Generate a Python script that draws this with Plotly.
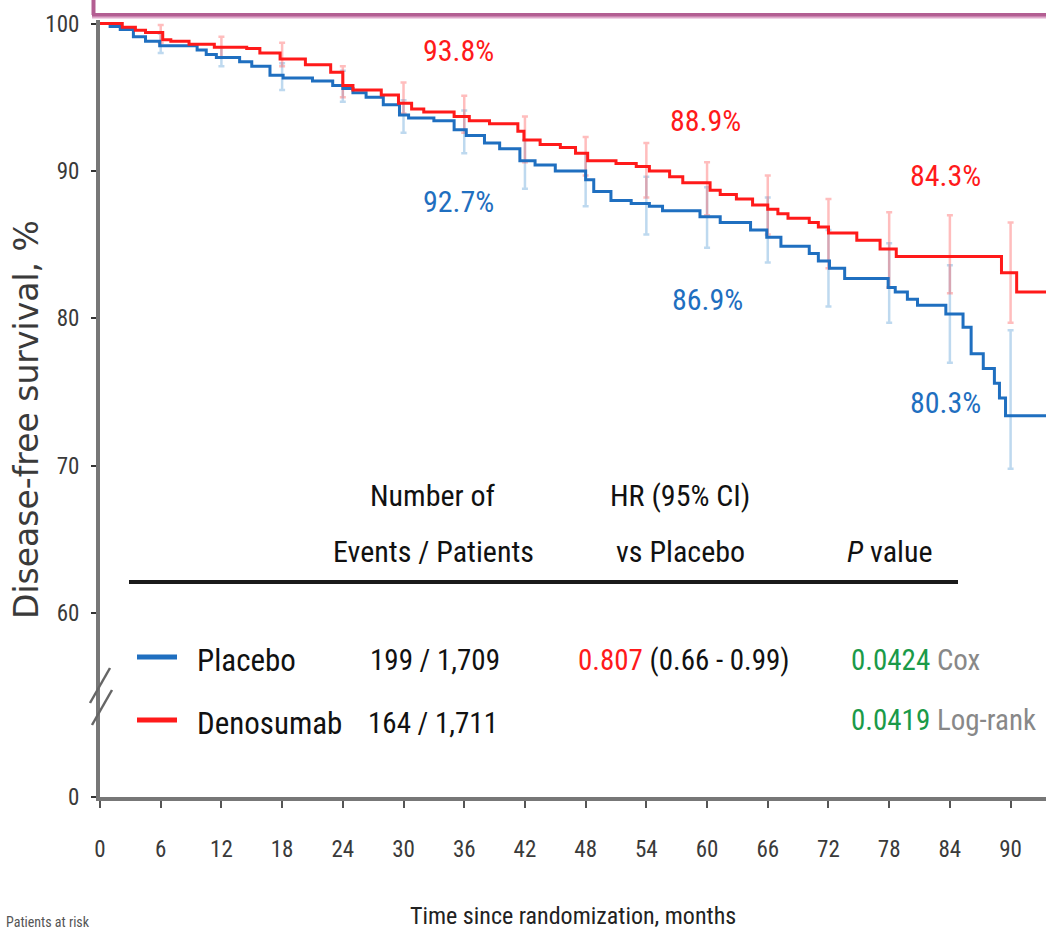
import plotly.graph_objects as go

# ---------------- data ----------------
month_ticks = list(range(0, 91, 6))
y_ticks_top = [60, 70, 80, 90, 100]

deno_t = [0, 2.2, 3.5, 4.5, 6.2, 7, 8.8, 11.3, 14.5, 15.8,
          17.8, 20.3, 22.8, 24.0, 25, 27.8, 29.5, 30.8, 32, 35,
          36.5, 38.5, 41.3, 41.9, 43.5, 45.5, 47, 48.2, 51, 53,
          54.3, 56.3, 57.6, 60.3, 61.3, 62.9, 64.5, 66, 67, 68,
          70.1, 71, 72, 74.8, 77.1, 78.7, 89.1, 90.6, 93.5]
deno_s = [100, 99.75, 99.55, 99.4, 98.9, 98.8, 98.6, 98.4, 98.3, 98.0,
          97.6, 97.2, 96.7, 95.8, 95.5, 95.15, 94.6, 94.2, 94.0, 93.7,
          93.4, 93.2, 92.7, 92.1, 91.8, 91.6, 91.2, 90.7, 90.5, 90.3,
          90.0, 89.6, 89.2, 88.7, 88.4, 88.1, 87.7, 87.4, 87.1, 86.8,
          86.5, 86.2, 85.8, 85.3, 84.7, 84.2, 83.1, 81.8, 81.8]

plac_t = [0, 1, 2, 3.3, 4.5, 5.9, 9.6, 10.5, 11.5, 13.8,
          15, 16.8, 18.1, 21, 23, 24, 25, 26.3, 28, 29.6,
          30.5, 33, 35, 36.2, 38, 39.5, 41.5, 43, 45, 48,
          48.8, 50.5, 52.5, 54.3, 55.6, 59.3, 61.3, 64.3, 65.9, 67.3,
          70.1, 71, 72.1, 73.6, 77.9, 78.6, 79.8, 80.8, 83.6, 85.3,
          86.1, 87.3, 88.4, 88.9, 89.5, 93.5]
plac_s = [100, 99.8, 99.6, 99.1, 98.8, 98.5, 98.2, 97.9, 97.7, 97.4,
          97.1, 96.5, 96.3, 96.1, 95.8, 95.6, 95.3, 95.0, 94.5, 93.8,
          93.6, 93.4, 92.8, 92.4, 91.9, 91.5, 90.7, 90.4, 90.0, 89.4,
          88.6, 88.0, 87.8, 87.6, 87.3, 86.9, 86.5, 86.0, 85.5, 84.9,
          84.4, 83.9, 83.4, 82.7, 82.1, 81.8, 81.3, 80.9, 80.3, 79.4,
          77.6, 76.6, 75.6, 74.6, 73.4, 73.4]

ci_t = [6, 12, 18, 24, 30, 36, 42, 48, 54, 60, 66, 72, 78, 84, 90]
deno_hi = [99.9, 99.1, 98.7, 97.1, 96.0, 95.1, 93.7, 92.3, 91.9, 90.6, 89.7, 88.1, 87.2, 87.0, 86.5]
deno_lo = [98.7, 97.7, 97.1, 95.0, 93.9, 92.6, 90.6, 89.7, 88.2, 87.0, 85.7, 83.4, 82.1, 81.7, 79.7]
plac_hi = [99.3, 98.4, 97.3, 96.8, 94.8, 94.1, 92.1, 91.2, 89.6, 88.9, 88.2, 86.0, 85.1, 83.6, 79.2]
plac_lo = [98.0, 97.1, 95.5, 94.7, 92.6, 91.2, 88.8, 87.6, 85.7, 84.8, 83.8, 80.8, 79.7, 77.0, 69.8]

pct_text = ["93.8%", "92.7%", "88.9%", "86.9%", "84.3%", "80.3%"]
pct_arm = ["deno", "plac", "deno", "plac", "deno", "plac"]
pct_x = [35.4, 35.4, 59.8, 60.0, 83.6, 83.6]
pct_y = [98.2, 87.9, 93.4, 81.25, 89.7, 74.3]

arms = ["Placebo", "Denosumab"]
events = ["199 / 1,709", "164 / 1,711"]
hr_text = "0.807"
hr_ci = "(0.66 - 0.99)"
p_values = ["0.0424", "0.0419"]
p_tests = ["Cox", "Log-rank"]

# ---------------- style ----------------
W, H = 1046, 931
ML, MR, MT, MB = 100, 0, 20, 134
RED = "#ff1a1a"
BLUE = "#1f6fc0"
GREEN = "#1a9a48"
NARROW = "Roboto Condensed, DejaVu Sans Condensed, Liberation Sans Narrow, Arial Narrow, Liberation Sans, sans-serif"
AXC = "#777777"


def px(x):
    return (x - ML) / (W - ML - MR)


def py(y):
    return (H - MB - y) / (H - MT - MB)


split = py(705)

fig = go.Figure()

# CI bars
fig.add_trace(go.Scatter(
    x=ci_t, y=plac_lo, mode="markers", marker=dict(size=1, opacity=0),
    showlegend=False, hoverinfo="skip",
    error_y=dict(type="data", symmetric=False,
                 array=[h - l for h, l in zip(plac_hi, plac_lo)],
                 arrayminus=[0] * len(ci_t),
                 color="rgba(110,170,220,0.45)", thickness=2.5, width=3)))
fig.add_trace(go.Scatter(
    x=ci_t, y=deno_lo, mode="markers", marker=dict(size=1, opacity=0),
    showlegend=False, hoverinfo="skip",
    error_y=dict(type="data", symmetric=False,
                 array=[h - l for h, l in zip(deno_hi, deno_lo)],
                 arrayminus=[0] * len(ci_t),
                 color="rgba(255,90,90,0.4)", thickness=2.5, width=3)))

# KM curves
fig.add_trace(go.Scatter(x=plac_t, y=plac_s, mode="lines", name="Placebo",
                         line=dict(color=BLUE, width=3, shape="hv"), showlegend=False))
fig.add_trace(go.Scatter(x=deno_t, y=deno_s, mode="lines", name="Denosumab",
                         line=dict(color=RED, width=3, shape="hv"), showlegend=False))
# empty trace registering the lower (broken) y-axis segment
fig.add_trace(go.Scatter(x=[], y=[], xaxis="x", yaxis="y2", mode="lines",
                         showlegend=False, hoverinfo="skip"))

tickfont = dict(family=NARROW, size=23, color="#3a3a3a")

fig.update_layout(
    width=W, height=H,
    margin=dict(l=ML, r=MR, t=MT, b=MB),
    paper_bgcolor="white", plot_bgcolor="white",
    showlegend=False,
    xaxis=dict(range=[0, 93.5], domain=[0, 1], anchor="y2",
               tickvals=month_ticks, ticktext=[str(m) for m in month_ticks],
               showgrid=False, zeroline=False, showline=True, linecolor=AXC, linewidth=4,
               ticks="outside", ticklen=7, tickwidth=2, tickcolor="#555555",
               tickfont=tickfont, ticklabelstandoff=21),
    yaxis=dict(range=[53.78, 100.24], domain=[split, 1], anchor="x",
               tickvals=y_ticks_top, ticktext=[str(v) for v in y_ticks_top],
               showgrid=False, zeroline=False, showline=True, linecolor=AXC, linewidth=4,
               ticks="outside", ticklen=5, tickwidth=2, tickcolor="#333333",
               tickfont=tickfont, ticklabelstandoff=7),
    yaxis2=dict(range=[0, 6.24], domain=[0, split], anchor="x",
                tickvals=[0], ticktext=["0"],
                showgrid=False, zeroline=False, showline=True, linecolor=AXC, linewidth=4,
                ticks="outside", ticklen=5, tickwidth=2, tickcolor="#333333",
                tickfont=tickfont, ticklabelstandoff=7),
)

annotations = []
# percent labels
for t, a, x, y in zip(pct_text, pct_arm, pct_x, pct_y):
    annotations.append(dict(x=x, y=y, xref="x", yref="y", text=t, showarrow=False,
                            font=dict(family=NARROW, size=30, color=RED if a == "deno" else BLUE),
                            xanchor="center", yanchor="middle"))

HF = dict(family=NARROW, size=30, color="#111111")
AF = dict(family=NARROW, size=31, color="#111111")
NF = dict(family=NARROW, size=29, color="#111111")


def ann(text, x, y, anchor="center", font=HF):
    annotations.append(dict(x=px(x), y=py(y), xref="paper", yref="paper", text=text,
                            showarrow=False, font=font, xanchor=anchor, yanchor="middle"))


ann("Number of", 433, 496)
ann("Events / Patients", 433, 551)
ann("HR (95% CI)", 680, 496)
ann("vs Placebo", 680, 551)
ann("<i>P</i> value", 889, 551)
ann(arms[0], 195, 660, "left", AF)
ann(arms[1], 195, 723, "left", AF)
ann(events[0], 435, 660, "center", NF)
ann(events[1], 433, 723, "center", NF)
ann(f"<span style='color:{RED}'>{hr_text}</span> {hr_ci}", 576, 660, "left", NF)
for p, test, y in zip(p_values, p_tests, [660, 720]):
    ann(f"<span style='color:{GREEN}'>{p}</span> <span style='color:#888888'>{test}</span>", 849, y, "left", NF)

# axis titles
annotations.append(dict(x=px(573), y=py(916), xref="paper", yref="paper",
                        text="Time since randomization, months", showarrow=False,
                        font=dict(family=NARROW, size=24, color="#222222"),
                        xanchor="center", yanchor="middle"))
annotations.append(dict(x=px(26), y=py(420), xref="paper", yref="paper",
                        text="Disease-free survival, %", showarrow=False, textangle=-90,
                        font=dict(family="DejaVu Sans, Liberation Sans, sans-serif", size=33, color="#3a3a3a"),
                        xanchor="center", yanchor="middle"))
annotations.append(dict(x=px(4), y=py(922), xref="paper", yref="paper",
                        text="Patients at risk", showarrow=False,
                        font=dict(family=NARROW, size=14, color="#555555"),
                        xanchor="left", yanchor="middle"))
fig.update_layout(annotations=annotations)

shapes = []
# table rule
shapes.append(dict(type="line", xref="paper", yref="paper", x0=px(129), x1=px(958), y0=py(582), y1=py(582),
                   line=dict(color="#1a1a1a", width=4)))
# legend lines
shapes.append(dict(type="line", xref="paper", yref="paper", x0=px(137), x1=px(177), y0=py(657), y1=py(657),
                   line=dict(color=BLUE, width=5)))
shapes.append(dict(type="line", xref="paper", yref="paper", x0=px(137), x1=px(177), y0=py(720), y1=py(720),
                   line=dict(color=RED, width=5)))
# axis break marks
for (x0, y0, x1, y1) in [(90, 703, 110, 668), (92, 725, 112, 690)]:
    shapes.append(dict(type="line", xref="paper", yref="paper", x0=px(x0), y0=py(y0), x1=px(x1), y1=py(y1),
                       line=dict(color="#666666", width=2.5)))
# slide frame at top
shapes.append(dict(type="line", xref="paper", yref="paper", x0=px(93.5), x1=px(93.5), y0=py(-2), y1=py(15),
                   line=dict(color="#b35e92", width=4)))
shapes.append(dict(type="line", xref="paper", yref="paper", x0=px(92), x1=px(1050), y0=py(15), y1=py(15),
                   line=dict(color="#b35e92", width=4)))
shapes.append(dict(type="line", xref="paper", yref="paper", x0=px(92), x1=px(1050), y0=py(17.5), y1=py(17.5),
                   line=dict(color="#dfaacb", width=2)))
fig.update_layout(shapes=shapes)

fig.write_html("out.html")
